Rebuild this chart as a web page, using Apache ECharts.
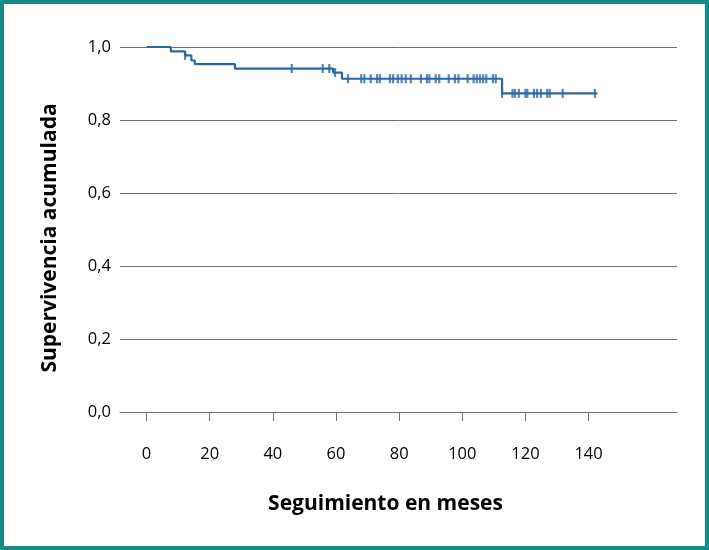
<!DOCTYPE html>
<html>
<head>
<meta charset="utf-8">
<script src="https://cdn.jsdelivr.net/npm/echarts@6/dist/echarts.min.js"></script>
<style>html,body{margin:0;padding:0;background:#fff}#c{width:709px;height:550px}</style>
</head>
<body>
<div id="c"></div>
<script>
// Kaplan-Meier data
var eventTimes    = [7.7, 12.2, 14.2, 15.3, 28.0, 59.1, 61.9, 112.6];
var eventSurvival = [0.988, 0.977, 0.963, 0.953, 0.941, 0.930, 0.913, 0.873];
var censorTimes = [12.2, 46.0, 55.8, 57.9, 59.7, 63.8, 68.0, 69.0, 71.0, 73.0, 73.9, 77.1, 78.1,
  79.6, 80.8, 82.1, 83.7, 86.9, 88.8, 89.6, 91.6, 92.7, 95.7, 97.7, 98.8, 101.7, 103.6, 104.6,
  105.6, 106.6, 107.6, 109.7, 110.6, 112.6, 115.9, 116.7, 117.9, 120.0, 120.6, 122.7, 123.7,
  124.9, 126.9, 127.7, 131.8, 142.0];
var lastFollowUp = 142.8;
var xTicks = [0, 20, 40, 60, 80, 100, 120, 140];
var yTicks = [0, 0.2, 0.4, 0.6, 0.8, 1.0];
var xTitle = 'Seguimiento en meses';
var yTitle = 'Supervivencia acumulada';

function survAt(t) {
  var s = 1;
  for (var i = 0; i < eventTimes.length; i++) if (eventTimes[i] <= t) s = eventSurvival[i];
  return s;
}
var lineData = [[0, 1]];
for (var i = 0; i < eventTimes.length; i++) lineData.push([eventTimes[i], eventSurvival[i]]);
lineData.push([lastFollowUp, survAt(lastFollowUp)]);
var censorData = censorTimes.map(function (t) { return [t, survAt(t)]; });

var FONT = 'Open Sans';
var blue = '#2a69a6';
var grey = '#707070';
var chart = echarts.init(document.getElementById('c'), null, {renderer: 'canvas'});
chart.setOption({
  animation: false,
  backgroundColor: '#fff',
  grid: {left: 120, right: 32, top: 47, bottom: 138, containLabel: false},
  xAxis: {
    type: 'value', min: -8.4, max: 168, offset: 20,
    axisLine: {show: true, lineStyle: {color: grey, width: 1}},
    axisTick: {show: true, length: 9, customValues: xTicks, lineStyle: {color: grey}},
    axisLabel: {customValues: xTicks, margin: 14, fontFamily: FONT, fontSize: 16.5, color: '#000'},
    splitLine: {show: false}
  },
  yAxis: {
    type: 'value', min: 0, max: 1, interval: 0.2,
    axisLine: {show: false}, axisTick: {show: false},
    axisLabel: {margin: 9, fontFamily: FONT, fontSize: 16.5, color: '#000',
      formatter: function (v) { return v.toFixed(1).replace('.', ','); }},
    splitLine: {show: true, lineStyle: {color: grey, width: 1}}
  },
  series: [
    {type: 'line', step: 'end', data: lineData, symbol: 'none',
     lineStyle: {color: blue, width: 2.2}, z: 3},
    {type: 'scatter', data: censorData, symbol: 'rect', symbolSize: [2.2, 9],
     itemStyle: {color: blue}, z: 4}
  ],
  graphic: [
    {type: 'rect', shape: {x: 2, y: 2, width: 705, height: 546},
     style: {fill: 'none', stroke: '#168b8c', lineWidth: 4}, z: 100},
    {type: 'text', x: 385.5, y: 504,
     style: {text: xTitle, font: 'bold 21px "' + FONT + '"', fill: '#000', textAlign: 'center', textVerticalAlign: 'middle'}},
    {type: 'text', x: 50, y: 238, rotation: Math.PI / 2,
     style: {text: yTitle, font: 'bold 21px "' + FONT + '"', fill: '#000', textAlign: 'center', textVerticalAlign: 'middle'}}
  ]
});
</script>
</body>
</html>
